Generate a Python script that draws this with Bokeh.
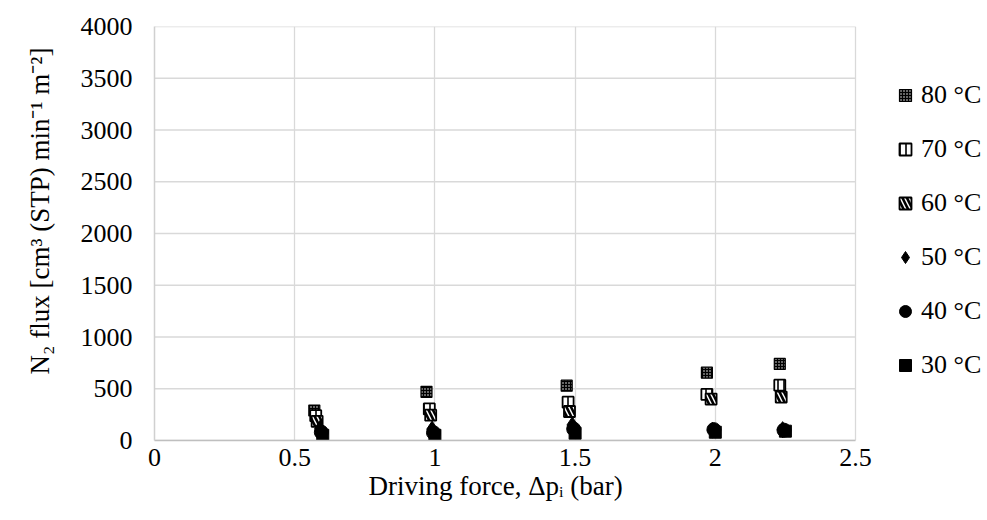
from bokeh.plotting import figure
from bokeh.models import Range1d, FixedTicker, Legend, LegendItem, Title
from bokeh.embed import file_html
from bokeh.resources import INLINE

# ---- data ----
labels = ["80 °C", "70 °C", "60 °C", "50 °C", "40 °C", "30 °C"]
x80 = [0.57, 0.97, 1.47, 1.97, 2.23]
y80 = [290, 470, 530, 655, 740]
x70 = [0.575, 0.98, 1.475, 1.97, 2.23]
y70 = [240, 305, 370, 445, 535]
x60 = [0.58, 0.985, 1.48, 1.985, 2.235]
y60 = [185, 245, 280, 400, 420]
x50 = [0.59, 0.99, 1.49, 1.99, 2.24]
y50 = [115, 110, 150, 100, 105]
x40 = [0.595, 0.995, 1.495, 1.995, 2.245]
y40 = [80, 75, 110, 105, 100]
x30 = [0.6, 1.0, 1.5, 2.0, 2.25]
y30 = [50, 50, 70, 80, 90]

x_ticks = [0, 0.5, 1, 1.5, 2, 2.5]
x_tick_labels = ["0", "0.5", "1", "1.5", "2", "2.5"]
y_ticks = [0, 500, 1000, 1500, 2000, 2500, 3000, 3500, 4000]

x_title = "Driving force, Δpᵢ (bar)"
y_title = "N₂ flux [cm³ (STP) min⁻¹ m⁻²]"

X_MAX = 2.5
Y_MAX = 4000

FONT = "Liberation Serif"

W, H = 987, 515
LEFT, TOP, BOTTOM, RIGHT = 154, 26, 440, 985
plot_px = 701  # pixel width of 0..2.5

p = figure(width=W, height=H,
           x_range=Range1d(0, X_MAX * (RIGHT - LEFT) / plot_px),
           y_range=Range1d(0, Y_MAX),
           output_backend="svg", toolbar_location=None,
           min_border_left=LEFT, min_border_right=W - RIGHT,
           min_border_top=TOP, min_border_bottom=H - BOTTOM)
p.outline_line_color = None
p.background_fill_color = "white"
p.border_fill_color = "white"

p.xaxis.ticker = FixedTicker(ticks=x_ticks)
p.yaxis.ticker = FixedTicker(ticks=y_ticks)
p.xgrid.ticker = FixedTicker(ticks=x_ticks)
p.xaxis.bounds = (0, X_MAX)
p.xaxis.major_label_overrides = {t: l for t, l in zip(x_ticks, x_tick_labels)}
p.yaxis.major_label_overrides = {t: str(t) for t in y_ticks}

p.xgrid.grid_line_color = "#d9d9d9"
p.xgrid.grid_line_width = 1.3
p.ygrid.grid_line_color = None

# horizontal gridlines limited to the 0..2.5 data span
p.segment(x0=[0] * len(y_ticks), x1=[X_MAX] * len(y_ticks),
          y0=y_ticks, y1=y_ticks, line_color="#d9d9d9", line_width=1.3)

for ax in (p.xaxis, p.yaxis):
    ax.major_tick_line_color = None
    ax.minor_tick_line_color = None
    ax.major_tick_out = 0
    ax.major_tick_in = 0
    ax.minor_tick_out = 0
    ax.major_label_text_font = FONT
    ax.major_label_text_font_size = "26px"
    ax.major_label_text_color = "black"

p.xaxis.axis_line_color = "#bfbfbf"
p.xaxis.axis_line_width = 1.6
p.yaxis.axis_line_color = "#d0d0d0"
p.yaxis.axis_line_width = 1.5
p.xaxis.major_label_standoff = 8
p.yaxis.major_label_standoff = 22

# axis titles as side titles (allow positioning like the reference)
tx = Title(text=x_title, align="left", offset=214, standoff=0,
           text_font=FONT, text_font_size="27px", text_font_style="normal",
           text_color="black")
p.add_layout(tx, "below")
ty = Title(text=y_title, align="left", offset=66, standoff=45,
           text_font=FONT, text_font_size="27px", text_font_style="normal",
           text_color="black")
p.add_layout(ty, "left")

# ---- series ----
r80 = p.scatter(x80, y80, marker="square", size=11, fill_color="black",
                line_color="black", line_width=1.2,
                hatch_pattern="dot", hatch_color="white", hatch_scale=3, hatch_weight=1.5)

r70 = p.scatter(x70, y70, marker="square", size=11, fill_color="white",
                line_color="black", line_width=1.8,
                hatch_pattern="vertical_line", hatch_color="black",
                hatch_scale=6, hatch_weight=1.6)

r60 = p.scatter(x60, y60, marker="square", size=11, fill_color="white",
                line_color="black", line_width=1.8,
                hatch_pattern="left_diagonal_line", hatch_color="black",
                hatch_scale=9, hatch_weight=2.6)

r50 = p.scatter(x50, y50, marker="diamond", size=16, fill_color="black",
                line_color="black")
r40 = p.scatter(x40, y40, marker="circle", size=14, fill_color="black",
                line_color="black")
r30 = p.scatter(x30, y30, marker="square", size=12, fill_color="black",
                line_color="black")

items = [LegendItem(label=l, renderers=[r])
         for l, r in zip(labels, [r80, r70, r60, r50, r40, r30])]
legend = Legend(items=items, location=(890 - LEFT, BOTTOM - 380),
                border_line_color=None, background_fill_alpha=0,
                label_text_font=FONT, label_text_font_size="26px",
                label_text_color="black",
                glyph_width=30, glyph_height=30, label_height=30,
                spacing=24, padding=0, margin=0, label_standoff=1)
p.add_layout(legend, "center")

open("out.html", "w").write(file_html(p, INLINE))
